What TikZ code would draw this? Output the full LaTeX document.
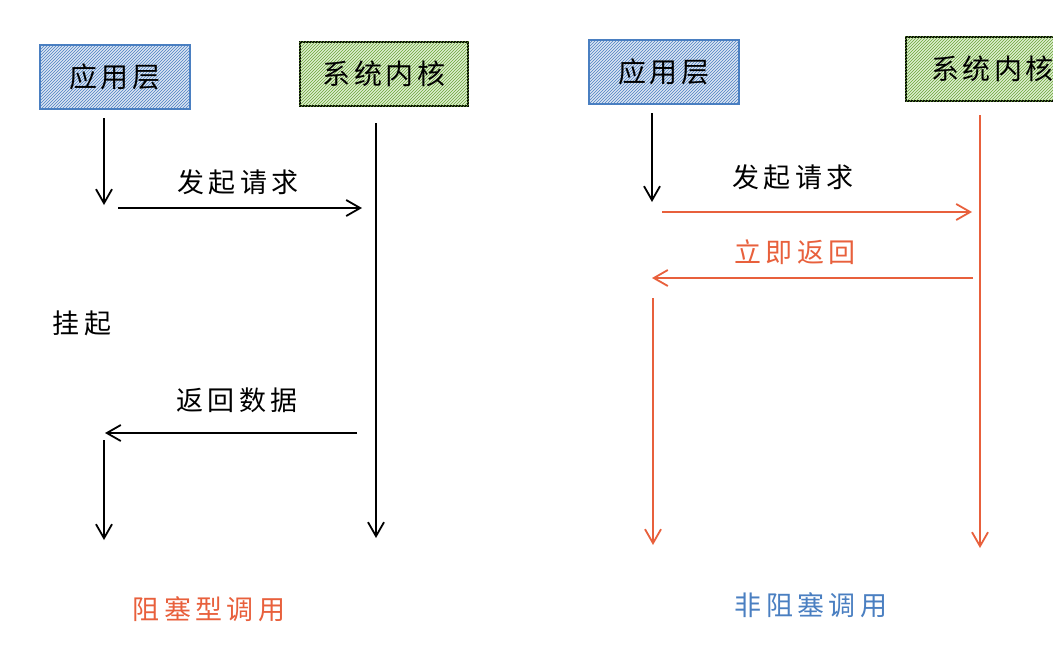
\documentclass[tikz,border=0pt]{standalone}
\usepackage{fontspec}
\setmainfont{Noto Sans CJK SC}
\usetikzlibrary{patterns,arrows.meta}
\definecolor{rd}{HTML}{E8603C}
\definecolor{bl}{HTML}{4A7FC1}
\definecolor{gr}{HTML}{7CC142}
\begin{document}
\begin{tikzpicture}[x=1pt,y=-1pt,
 lbl/.style={font=\fontsize{27}{30}\selectfont\addfontfeature{LetterSpace=16}},
 box/.style={draw,line width=1.8pt,minimum width=150pt,minimum height=64pt},
 tx/.style={font=\fontsize{28}{30}\selectfont\addfontfeature{LetterSpace=12}},
 arr/.style={line width=1.8pt,-{Straight Barb[length=14pt,width=16pt]}}]
\useasboundingbox (0,0) rectangle (1053,672);
\node[box,draw=bl,fill=bl!20] (a1) at (115,77) {};
\fill[pattern=north east lines,pattern color=bl] (a1.south west) rectangle (a1.north east);
\node[tx] at (115,77) {应用层};
\node[box,minimum width=168pt,draw=black,fill=gr!25] (k1) at (384,74) {};
\fill[pattern=north east lines,pattern color=gr!85!black] (k1.south west) rectangle (k1.north east);
\node[tx] at (384,74) {系统内核};
\coordinate (a1d) at (104,118); \coordinate (a1e) at (104,205);
\draw[arr] (a1d) -- (a1e);
\coordinate (k1s) at (376,123); \coordinate (k1e) at (376,538);
\draw[arr] (k1s) -- (k1e);
\node[lbl] (t1) at (238,182) {发起请求};
\coordinate (r1s) at (118,208); \coordinate (r1e) at (362,208);
\draw[arr] (r1s) -- (r1e);
\node[lbl] (t2) at (82,323) {挂起};
\node[lbl] (t3) at (237,400) {返回数据};
\coordinate (b1s) at (357,433); \coordinate (b1e) at (105,433);
\draw[arr] (b1s) -- (b1e);
\coordinate (d1s) at (104,440); \coordinate (d1e) at (104,540);
\draw[arr] (d1s) -- (d1e);
\node[lbl,text=rd] (t4) at (209,609) {阻塞型调用};
% right
\node[box,draw=bl,fill=bl!20] (a2) at (664,72) {};
\fill[pattern=north east lines,pattern color=bl] (a2.south west) rectangle (a2.north east);
\node[tx] at (664,72) {应用层};
\node[box,minimum width=168pt,draw=black,fill=gr!25,anchor=west] (k2) at (905,69) {};
\fill[pattern=north east lines,pattern color=gr!85!black] (k2.south west) rectangle (k2.north east);
\node[tx,anchor=west] at (928,69) {系统内核};
\coordinate (a2d) at (652,113); \coordinate (a2e) at (652,202);
\draw[arr] (a2d) -- (a2e);
\node[lbl] (t5) at (793,177) {发起请求};
\coordinate (r2s) at (662,212); \coordinate (r2e) at (972,212);
\draw[arr,rd] (r2s) -- (r2e);
\node[lbl,text=rd] (t6) at (795,252) {立即返回};
\coordinate (b2s) at (973,278); \coordinate (b2e) at (652,278);
\draw[arr,rd] (b2s) -- (b2e);
\coordinate (d2s) at (653,298); \coordinate (d2e) at (653,545);
\draw[arr,rd] (d2s) -- (d2e);
\coordinate (k2s) at (980,115); \coordinate (k2e) at (980,548);
\draw[arr,rd] (k2s) -- (k2e);
\node[lbl,text=bl] (t7) at (811,605) {非阻塞调用};
\end{tikzpicture}
\end{document}
